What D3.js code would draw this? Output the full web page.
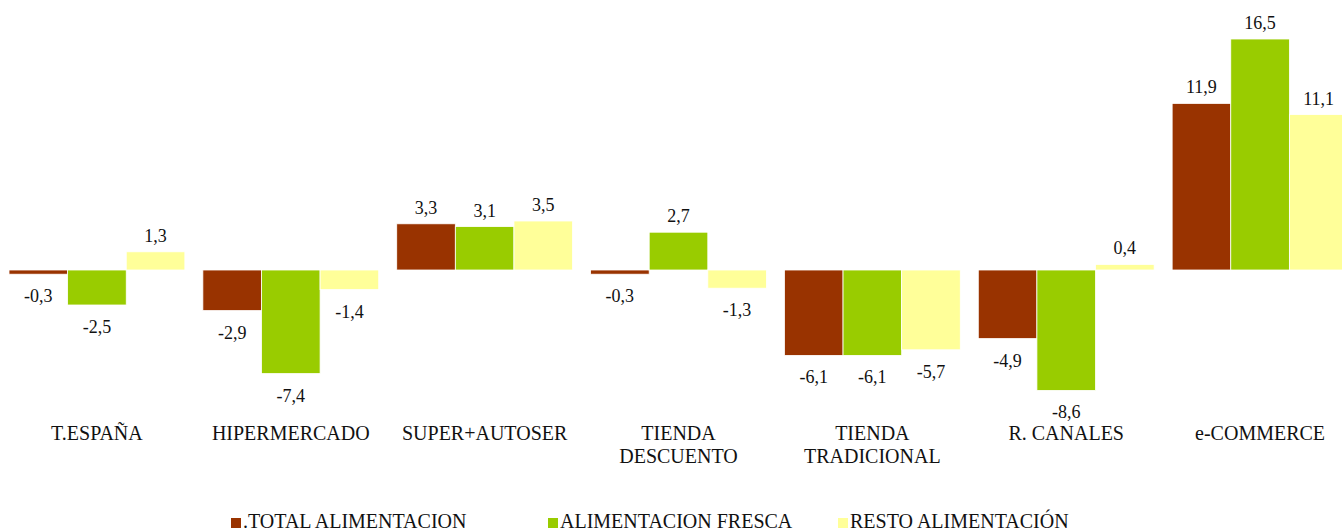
<!DOCTYPE html>
<html>
<head>
<meta charset="utf-8">
<script src="https://cdn.jsdelivr.net/npm/d3@7"></script>
<style>
  html, body { margin: 0; padding: 0; background: #fff; }
  svg { display: block; }
</style>
</head>
<body>
<svg id="chart" width="1342" height="532"></svg>
<script>
// Channel names (two-line labels split on "\n")
const categories = ["T.ESPAÑA", "HIPERMERCADO", "SUPER+AUTOSER", "TIENDA\nDESCUENTO", "TIENDA\nTRADICIONAL", "R. CANALES", "e-COMMERCE"];
const seriesNames = [".TOTAL ALIMENTACION", "ALIMENTACION FRESCA", "RESTO ALIMENTACIÓN"];
const totalAlimentacion = [-0.3, -2.9, 3.3, -0.3, -6.1, -4.9, 11.9];
const alimentacionFresca = [-2.5, -7.4, 3.1, 2.7, -6.1, -8.6, 16.5];
const restoAlimentacion = [1.3, -1.4, 3.5, -1.3, -5.7, 0.4, 11.1];
const seriesColors = ["#993300", "#99CC00", "#FFFF99"];

const seriesValues = [totalAlimentacion, alimentacionFresca, restoAlimentacion];
const rows = categories.map((c, i) => ({
  cat: c,
  vals: seriesNames.map((s, j) => ({ series: s, idx: j, value: seriesValues[j][i] }))
}));

const serif = "'Liberation Serif', 'Times New Roman', serif";
const svg = d3.select("#chart");

const x0 = d3.scaleBand().domain(categories).range([0, 1357]).padding(0);
const x1 = d3.scaleBand().domain(seriesNames).range([9, x0.bandwidth() - 9]).padding(0);
const y = d3.scaleLinear().domain([-10, 17]).range([410, 32]);

const fmt = v => d3.format(".1f")(v).replace(".", ",").replace("−", "-");

const groups = svg.append("g").selectAll("g.group")
  .data(rows).join("g")
  .attr("class", "group")
  .attr("transform", d => `translate(${x0(d.cat)},0)`);

groups.selectAll("rect")
  .data(d => d.vals).join("rect")
  .attr("x", d => x1(d.series))
  .attr("width", x1.bandwidth())
  .attr("y", d => y(Math.max(0, d.value)))
  .attr("height", d => Math.abs(y(d.value) - y(0)))
  .attr("fill", d => seriesColors[d.idx])
  .attr("stroke", "#ffffff")
  .attr("stroke-width", 0.8);

groups.selectAll("text.val")
  .data(d => d.vals).join("text")
  .attr("class", "val")
  .attr("x", d => x1(d.series) + x1.bandwidth() / 2)
  .attr("y", d => d.value >= 0 ? y(d.value) - 10 : y(d.value) + 28)
  .attr("text-anchor", "middle")
  .attr("font-family", serif)
  .attr("font-size", 18)
  .attr("fill", "#111")
  .text(d => fmt(d.value));

// Category axis labels
const catLabels = svg.append("g").selectAll("text.cat")
  .data(categories).join("text")
  .attr("class", "cat")
  .attr("x", d => x0(d) + x0.bandwidth() / 2)
  .attr("y", 440)
  .attr("text-anchor", "middle")
  .attr("font-family", serif)
  .attr("font-size", 20)
  .attr("fill", "#111");
catLabels.each(function(d) {
  const t = d3.select(this);
  d.split("\n").forEach((line, i) => {
    t.append("tspan")
      .attr("x", x0(d) + x0.bandwidth() / 2)
      .attr("dy", i === 0 ? 0 : 23)
      .text(line);
  });
});

// Legend
const legendX = [231, 548, 838];
const legend = svg.append("g").selectAll("g.leg")
  .data(seriesNames).join("g")
  .attr("class", "leg")
  .attr("transform", (d, i) => `translate(${legendX[i]},0)`);
legend.append("rect")
  .attr("x", 0).attr("y", 518)
  .attr("width", 10).attr("height", 10)
  .attr("fill", (d, i) => seriesColors[i]);
legend.append("text")
  .attr("x", 12).attr("y", 528)
  .attr("font-family", serif)
  .attr("font-size", 20)
  .attr("fill", "#111")
  .text(d => d);
</script>
</body>
</html>
